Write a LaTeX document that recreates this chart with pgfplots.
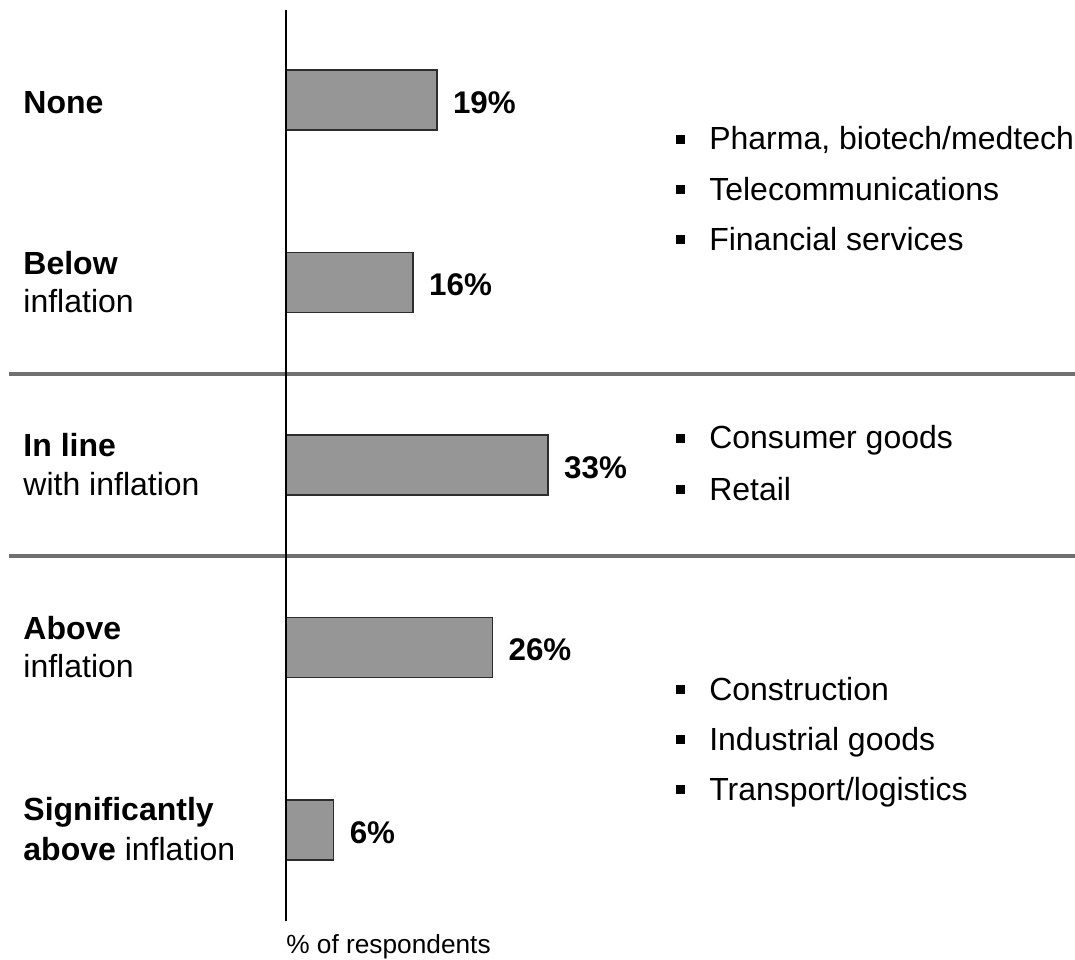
\documentclass[border=0pt]{standalone}
\usepackage{fontspec}
\setmainfont{Liberation Sans}
\usepackage{pgfplots}
\pgfplotsset{compat=1.18}
\definecolor{barfill}{RGB}{150,150,150}
\definecolor{bardraw}{RGB}{45,45,45}
\definecolor{sepcol}{RGB}{112,112,112}
\newcommand{\fs}{\fontsize{24pt}{28pt}\selectfont}
\newcommand{\fv}{\fontsize{23.5pt}{28pt}\selectfont}
\newcommand{\fss}{\fontsize{19.7pt}{23pt}\selectfont}
\newcommand{\bul}{\rule[4.5pt]{6.75pt}{6.75pt}\hspace{18pt}}
\tikzset{lbl/.style={anchor=base west, inner sep=0pt, font=\fs}}
\begin{document}
\begin{tikzpicture}
\begin{axis}[
  at={(0pt,0pt)}, anchor=south west,
  scale only axis, width=806.25pt, height=720pt,
  xmin=-36.02, xmax=99.37,
  ymin=-0.5479, ymax=4.7123, y dir=reverse,
  hide axis, clip=false,
  xbar, bar width=45pt,
  point meta=x,
  nodes near coords={\pgfmathprintnumber[assume math mode=true]{\pgfplotspointmeta}\%},
  every node near coord/.append style={font=\fv\bfseries, anchor=west, inner sep=0pt, xshift=11.5pt, yshift=-2pt},
]
% separators
\draw[sepcol, line width=3pt] (axis cs:-34.89,1.5) -- (axis cs:99.37,1.5);
\draw[sepcol, line width=3pt] (axis cs:-34.89,2.5) -- (axis cs:99.37,2.5);

\addplot[fill=barfill, draw=bardraw, line width=1.2pt] coordinates {
  (19,0) (16,1) (33,2) (26,3) (6,4)
};

% value axis line
\draw[black, line width=1.5pt] (axis cs:0,-0.493) -- (axis cs:0,4.499);

% category labels
\node[lbl] at (axis cs:-33.1,0.075) {\bfseries None};
\node[lbl] at (axis cs:-33.1,0.957) {\bfseries Below};
\node[lbl] at (axis cs:-33.1,1.167) {inflation};
\node[lbl] at (axis cs:-33.1,1.955) {\bfseries In line};
\node[lbl] at (axis cs:-33.1,2.166) {with inflation};
\node[lbl] at (axis cs:-33.1,2.957) {\bfseries Above};
\node[lbl] at (axis cs:-33.1,3.164) {inflation};
\node[lbl] at (axis cs:-33.1,3.950) {\bfseries Significantly};
\node[lbl] at (axis cs:-33.1,4.168) {\textbf{above} inflation};

% bullet lists
\node[lbl] at (axis cs:49.12,0.274) {\bul Pharma, biotech/medtech};
\node[lbl] at (axis cs:49.12,0.548) {\bul Telecommunications};
\node[lbl] at (axis cs:49.12,0.822) {\bul Financial services};
\node[lbl] at (axis cs:49.12,1.912) {\bul Consumer goods};
\node[lbl] at (axis cs:49.12,2.192) {\bul Retail};
\node[lbl] at (axis cs:49.12,3.288) {\bul Construction};
\node[lbl] at (axis cs:49.12,3.562) {\bul Industrial goods};
\node[lbl] at (axis cs:49.12,3.836) {\bul Transport/logistics};

% axis caption
\node[anchor=base west, inner sep=0pt, font=\fss] at (axis cs:0,4.674) {\% of respondents};
\end{axis}
\pgfresetboundingbox
\path (0pt,0pt) rectangle (806.25pt,720pt);
\end{tikzpicture}
\end{document}
